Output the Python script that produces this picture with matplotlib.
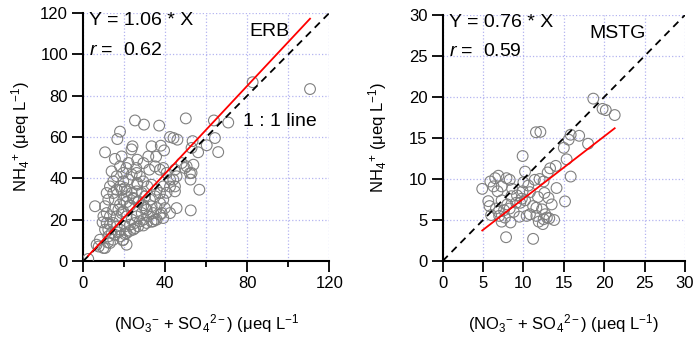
import matplotlib
matplotlib.use("Agg")
import matplotlib.pyplot as plt
from matplotlib.ticker import MultipleLocator

plt.rcParams['font.family'] = ['Liberation Sans', 'DejaVu Sans']
plt.rcParams['mathtext.fontset'] = 'custom'
plt.rcParams['mathtext.rm'] = 'Liberation Sans'
plt.rcParams['mathtext.it'] = 'Liberation Sans:italic'

# ERB site: NO3- + SO4 2- vs NH4+ (ueq/L)
erb_x = [2.4, 5.7, 82.6, 110.6, 63.7, 70.7, 50.0, 25.2, 29.6, 37.0, 17.9, 16.6, 42.3, 45.9, 44.0,
         53.3, 64.2, 10.6, 15.4, 18.7, 24.0, 23.5, 33.3, 37.8, 31.7, 35.5, 39.4, 52.8, 56.0, 60.2,
         65.8, 21.0, 25.8, 13.8, 39.0, 44.7, 53.7, 49.5, 52.0, 52.3, 56.6, 44.7, 45.5, 52.4, 19.2,
         10.6, 7.5, 12.0, 50.4, 52.8, 48.0, 45.5, 43.9, 42.3, 40.6, 39.0, 37.4, 39.8, 38.2, 35.0,
         30.9, 26.8, 24.4, 21.1, 17.9, 14.6, 12.2, 10.6, 11.4, 13.0, 14.6, 15.4, 14.6, 16.3, 17.9,
         19.5, 22.0, 23.6, 26.0, 27.6, 29.3, 31.2, 33.3, 35.8, 37.4, 35.0, 32.5, 30.1, 28.5, 26.0,
         23.6, 21.1, 19.5, 17.9, 17.1, 18.7, 21.1, 23.6, 26.0, 28.5, 30.9, 33.3, 35.8, 37.4, 34.1,
         31.7, 29.3, 27.6, 25.2, 22.8, 20.3, 17.9, 16.3, 14.6, 13.0, 12.2, 13.8, 15.4, 19.5, 21.1,
         22.8, 24.4, 26.8, 29.3, 22.8, 26.3, 20.3, 26.3, 18.7, 21.1, 24.4, 26.8, 30.1, 19.5, 16.3,
         17.1, 20.3, 22.8, 25.2, 29.3, 33.3, 21.1, 9.8, 6.5, 13.0, 8.1, 42.3, 44.7, 39.0, 40.6,
         37.4, 35.0, 32.2, 29.3, 26.3, 22.0, 17.9, 19.5, 16.3, 14.6, 13.0, 11.4, 12.2, 10.6, 11.4,
         9.8, 9.4, 39.0, 42.3, 35.8, 34.1]
erb_y = [1.0, 26.5, 86.5, 83.2, 68.0, 67.0, 69.0, 68.0, 66.0, 65.5, 62.6, 59.0, 60.0, 58.7, 59.5,
         58.0, 59.5, 52.6, 49.4, 50.6, 55.5, 54.0, 55.5, 55.8, 50.6, 50.5, 53.5, 54.7, 52.6, 56.0,
         52.7, 45.0, 45.0, 43.4, 45.0, 44.2, 46.6, 45.0, 42.5, 39.4, 34.5, 33.7, 25.6, 24.5, 10.0,
         6.3, 7.0, 9.0, 45.8, 42.6, 47.4, 41.0, 39.4, 36.0, 33.0, 29.7, 28.0, 25.6, 23.2, 20.0,
         18.4, 16.8, 15.2, 13.5, 11.9, 10.3, 11.9, 15.2, 18.4, 21.6, 24.8, 29.7, 32.9, 34.5, 36.1,
         38.5, 39.4, 41.8, 42.6, 41.0, 38.5, 36.1, 36.9, 34.5, 32.9, 31.3, 29.7, 31.3, 32.9, 33.7,
         32.9, 31.3, 29.7, 27.3, 24.8, 23.2, 21.6, 20.0, 21.6, 23.2, 24.8, 26.5, 25.6, 22.4, 23.2,
         21.6, 20.0, 19.2, 18.4, 17.6, 16.8, 15.2, 16.8, 18.4, 17.6, 15.2, 13.5, 12.7, 10.3, 28.5,
         26.9, 30.1, 28.5, 27.0, 26.9, 37.7, 35.3, 36.9, 34.5, 33.7, 30.5, 28.9, 25.6, 24.0, 21.6,
         13.8, 13.0, 14.6, 15.9, 17.2, 19.0, 7.9, 6.3, 7.9, 8.7, 10.3, 39.4, 36.1, 36.1, 42.6,
         44.2, 45.8, 44.2, 47.4, 49.0, 47.4, 45.8, 42.6, 41.0, 38.5, 36.1, 32.9, 29.7, 26.5, 23.2,
         21.6, 18.7, 20.8, 23.2, 20.0, 19.2]

# MSTG site
mstg_x = [18.65, 19.8, 20.2, 21.3, 11.55, 12.1, 15.85, 16.9, 18.0, 15.6, 15.0, 9.9, 15.35, 15.85,
          15.15, 14.0, 13.3, 13.0, 12.5, 10.2, 11.4, 4.9, 14.1, 13.1, 13.8, 7.85, 11.2, 5.9, 6.5,
          6.9, 7.9, 8.3, 6.3, 6.8, 7.3, 5.65, 5.8, 6.6, 7.3, 8.5, 9.1, 8.3, 7.0, 7.7, 8.4, 7.3,
          8.8, 9.6, 10.2, 10.8, 10.4, 10.8, 11.6, 11.9, 12.5, 12.9, 12.7, 12.3, 11.6, 11.2, 9.9,
          9.2, 9.8, 6.0, 8.0, 9.5, 10.0, 12.0, 12.6, 11.8, 13.5, 12.4, 13.2, 6.9, 8.6, 7.6, 10.6]
mstg_y = [19.8, 18.55, 18.4, 17.8, 15.7, 15.75, 15.4, 15.27, 14.3, 14.8, 13.8, 12.8, 12.4, 10.3,
          7.27, 11.6, 11.3, 10.8, 9.7, 10.9, 9.9, 8.8, 8.9, 7.7, 5.0, 2.9, 2.7, 9.7, 10.1,
          10.4, 10.1, 9.9, 9.1, 8.5, 9.1, 7.3, 6.7, 6.4, 7.4, 7.9, 7.1, 6.4, 5.5, 5.3, 4.7, 4.8,
          6.0, 7.1, 7.4, 8.4, 5.5, 5.7, 5.5, 4.8, 5.1, 5.3, 5.7, 6.3, 6.5, 6.7, 8.5,
          8.0, 7.6, 5.6, 6.9, 5.4, 9.6, 10.0, 8.3, 7.8, 6.9, 4.5, 5.2, 6.0, 8.8, 6.2, 9.2]

erb_slope, erb_r = 1.06, 0.62
mstg_slope, mstg_r = 0.76, 0.59

grid_col = '#b4b4f0'
ion_label = r'(NO$_3{}^{-}$ + SO$_4{}^{2-}$) (μeq L$^{-1}$'


def draw_panel(ax, xs, ys, slope, r, lim, major, xmajor, xminor, site, site_xy, xlabel,
               ypad, one_one=None):
    ax.scatter(xs, ys, s=60, facecolors='none', edgecolors='#808080', linewidths=0.8, zorder=3)
    ax.plot([0, lim], [0, lim], color='black', ls=(0, (4, 3)), lw=1.3, zorder=4)
    x0, x1 = min(xs), max(xs)
    ax.plot([x0, x1], [slope * x0, slope * x1], color='red', lw=1.3, zorder=5)
    ax.set_xlim(0, lim)
    ax.set_ylim(0, lim)
    ax.xaxis.set_major_locator(MultipleLocator(xmajor))
    ax.xaxis.set_minor_locator(MultipleLocator(xminor))
    ax.yaxis.set_major_locator(MultipleLocator(major))
    ax.grid(True, which='both', color=grid_col, ls=':', lw=0.9)
    for s in ('top', 'right'):
        ax.spines[s].set_visible(False)
    for s in ('left', 'bottom'):
        ax.spines[s].set_linewidth(1.5)
    ax.tick_params(which='major', length=8, width=1.3, labelsize=12, pad=3)
    ax.tick_params(which='minor', length=4.5, width=1.3)
    ax.set_xlabel(xlabel, fontsize=12, labelpad=15)
    ax.set_ylabel(r'NH$_4{}^{+}$ (μeq L$^{-1}$)', fontsize=12, labelpad=ypad)
    ax.text(0.025, 1.005, 'Y = %.2f * X' % slope, transform=ax.transAxes, fontsize=14, va='top')
    ax.text(0.025, 0.885, '$r$ =  %.2f' % r, transform=ax.transAxes, fontsize=14, va='top')
    ax.text(site_xy[0], site_xy[1], site, fontsize=14, va='center')
    if one_one:
        ax.text(one_one[0], one_one[1], '1 : 1 line', fontsize=14, va='center')


fig = plt.figure(figsize=(6.99, 3.41), dpi=100)
ax1 = fig.add_axes([0.1192, 0.2346, 0.3519, 0.7273])
ax2 = fig.add_axes([0.6333, 0.2346, 0.3466, 0.7214])

draw_panel(ax1, erb_x, erb_y, erb_slope, erb_r, 120, 20, 40, 20, 'ERB', (81, 111),
           ion_label, 6, one_one=(78, 67.5))
draw_panel(ax2, mstg_x, mstg_y, mstg_slope, mstg_r, 30, 5, 5, 5, 'MSTG', (18.2, 27.8),
           ion_label + ')', 14)

fig.savefig('out.png', dpi=100)
